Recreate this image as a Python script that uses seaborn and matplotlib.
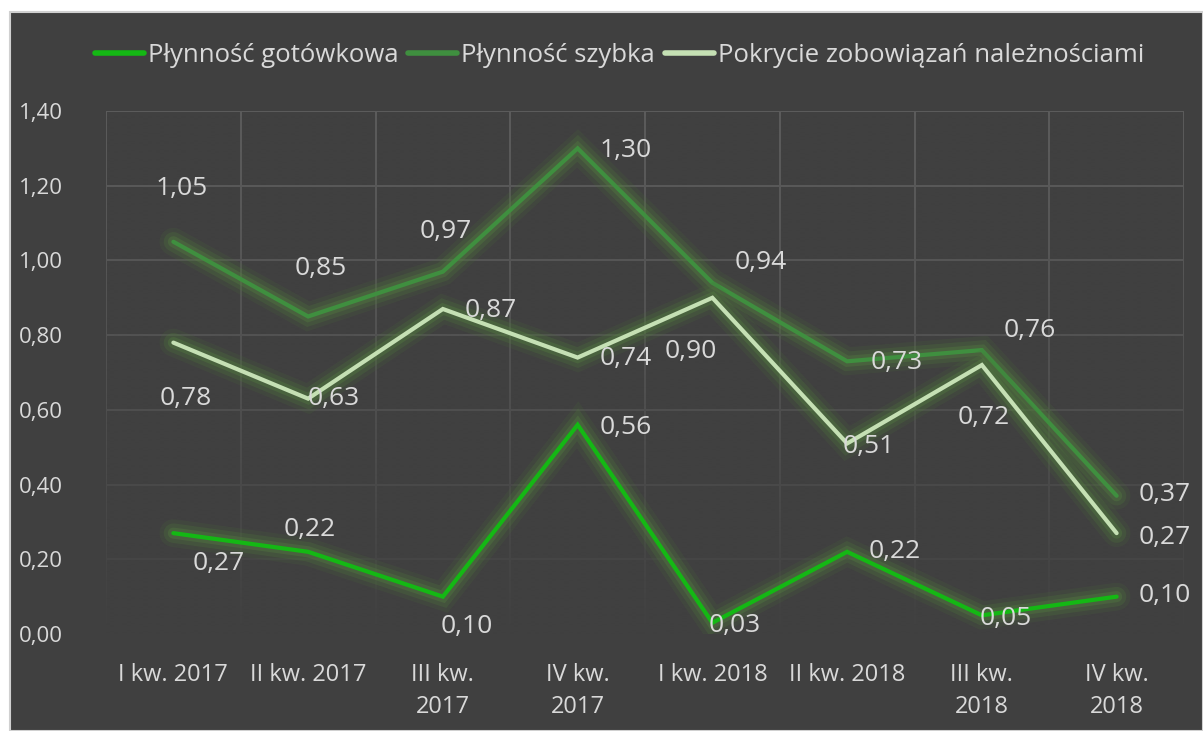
import matplotlib
matplotlib.use("Agg")
import matplotlib.pyplot as plt
import matplotlib.patheffects as pe
from matplotlib.patches import Rectangle
from matplotlib.lines import Line2D
from matplotlib.colors import to_rgb
import numpy as np
import seaborn as sns
import pandas as pd

categories = ["I kw. 2017", "II kw. 2017", "III kw.\n2017", "IV kw.\n2017",
              "I kw. 2018", "II kw. 2018", "III kw.\n2018", "IV kw.\n2018"]
plynnosc_gotowkowa = [0.27, 0.22, 0.10, 0.56, 0.03, 0.22, 0.05, 0.10]
plynnosc_szybka = [1.05, 0.85, 0.97, 1.30, 0.94, 0.73, 0.76, 0.37]
pokrycie = [0.78, 0.63, 0.87, 0.74, 0.90, 0.51, 0.72, 0.27]
series_names = ["Płynność gotówkowa", "Płynność szybka", "Pokrycie zobowiązań należnościami"]
y_ticks = [0.0, 0.2, 0.4, 0.6, 0.8, 1.0, 1.2, 1.4]

colors = ["#14b814", "#3f8f3f", "#c5e0b4"]
# label offsets (pixels) per series
offsets = [
    [(45, -30), (2, 22), (24, -30), (48, -3), (22, -3), (48, 0), (24, -3), (48, 1)],
    [(8, 53), (13, 48), (3, 40), (48, -2), (48, 20), (50, -1), (48, 20), (48, 1)],
    [(12, -56), (26, 0), (48, -2), (48, -1), (-22, -54), (22, -3), (2, -52), (48, -4)],
]

sns.set_theme(style="dark")
plt.rcParams['font.family'] = ['Open Sans', 'DejaVu Sans']

BG = "#404040"
TXT = "#d9d9d9"
GRID = "#5c5c5c"

fig = plt.figure(figsize=(12.03, 7.31), dpi=100, facecolor="white")
fig.patches.append(Rectangle((10 / 1203, 0), 1 - 10 / 1203, 1 - 12 / 731,
                             transform=fig.transFigure, facecolor=BG,
                             edgecolor="#d0d0d0", linewidth=1.5, zorder=-10))

ax = fig.add_axes([106 / 1203, (731 - 634) / 731, (1184 - 106) / 1203, (634 - 111) / 731])
ax.set_facecolor(BG)
ax.set_axisbelow(True)

x = list(range(len(categories)))
df = pd.DataFrame({"x": x * 3,
                   "value": plynnosc_gotowkowa + plynnosc_szybka + pokrycie,
                   "series": sum([[n] * len(x) for n in series_names], [])})

glow = [pe.Stroke(linewidth=20, foreground="#4a6a3a", alpha=0.18),
        pe.Stroke(linewidth=14, foreground="#4f7a3c", alpha=0.25),
        pe.Stroke(linewidth=8, foreground="#557f40", alpha=0.35),
        pe.Normal()]

sns.lineplot(data=df, x="x", y="value", hue="series", palette=colors,
             hue_order=series_names, linewidth=3.0, ax=ax, legend=False,
             sort=False)
for line in ax.get_lines():
    line.set_path_effects(glow)
    line.set_solid_joinstyle("miter")
    line.set_zorder(3)

for vals, offs in zip([plynnosc_gotowkowa, plynnosc_szybka, pokrycie], offsets):
    for xi, v, (dx, dy) in zip(x, vals, offs):
        ax.annotate(f"{v:.2f}".replace(".", ","), (xi, v), xytext=(dx, dy),
                    textcoords="offset pixels", ha="center", va="center",
                    color=TXT, fontsize=19, zorder=4)

ax.set_xlim(-0.5, 7.5)
ax.set_ylim(0, 1.4)

# fading overlay so gridlines fade toward the bottom
h = 256
alpha = np.linspace(0.0, 1.0, h) ** 1.3
rgba = np.zeros((h, 1, 4))
rgba[:, 0, :3] = to_rgb(BG)
rgba[:, 0, 3] = alpha
ax.imshow(rgba, extent=[-0.5, 7.5, -0.01, 1.41], aspect="auto", zorder=1,
          interpolation="bilinear", origin="upper")
ax.set_xlim(-0.5, 7.5)
ax.set_ylim(0, 1.4)

ax.set_yticks(y_ticks)
ax.set_yticklabels([f"{t:.2f}".replace(".", ",") for t in y_ticks], color=TXT, fontsize=16)
ax.set_xticks(x)
ax.set_xticklabels(categories, color=TXT, fontsize=17, linespacing=1.45, va="top")
ax.set_xticks([i + 0.5 for i in range(-1, 8)], minor=True)
ax.grid(False)
ax.grid(True, axis="y", which="major", color=GRID, linewidth=1.4)
ax.grid(True, axis="x", which="minor", color=GRID, linewidth=1.4)
ax.tick_params(axis="both", which="both", length=0)
ax.tick_params(axis="y", pad=31)
ax.tick_params(axis="x", pad=21)
for s in ax.spines.values():
    s.set_visible(False)
ax.set_xlabel("")
ax.set_ylabel("")

handles = [Line2D([0], [0], color=c, linewidth=4) for c in colors]
fig.legend(handles, series_names, loc="center", bbox_to_anchor=(0.515, 1 - 55 / 731),
           ncol=3, frameon=False, fontsize=18.5, labelcolor=TXT,
           handlelength=1.9, handletextpad=0.15, columnspacing=0.4)

fig.savefig("out.png", dpi=100, facecolor="white")
